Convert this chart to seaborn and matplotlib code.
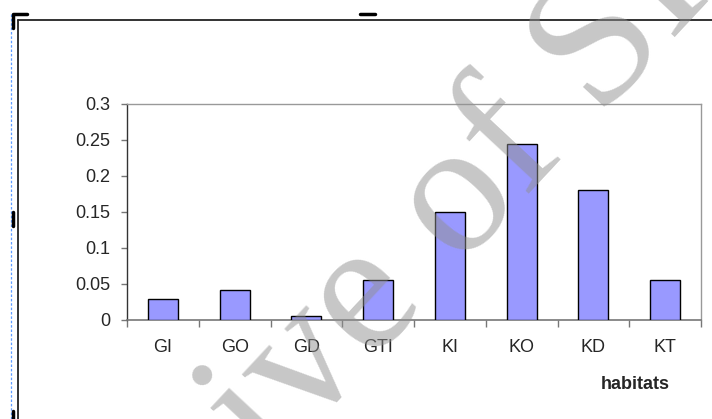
import matplotlib
matplotlib.use("Agg")
import matplotlib.pyplot as plt
from matplotlib.lines import Line2D
import seaborn as sns
import numpy as np

# data
habitats = ["GI", "GO", "GD", "GTI", "KI", "KO", "KD", "KT"]
values = [0.029, 0.041, 0.006, 0.056, 0.150, 0.245, 0.180, 0.056]
yticks = [0, 0.05, 0.1, 0.15, 0.2, 0.25, 0.3]
ytick_labels = ["0", "0.05", "0.1", "0.15", "0.2", "0.25", "0.3"]

sns.set_style("white")
plt.rcParams['font.family'] = ['Liberation Sans', 'DejaVu Sans']

W, H = 712, 419
fig = plt.figure(figsize=(W / 100, H / 100), dpi=100)
ax = fig.add_axes([127 / W, 1 - 320 / H, (701 - 127) / W, (320 - 104) / H])

sns.barplot(x=habitats, y=values, color="#9999ff", saturation=1,
            edgecolor="black", linewidth=1, width=0.42, ax=ax, zorder=3)

ax.set_xlim(-0.5, len(habitats) - 0.5)
ax.set_ylim(0, 0.3)
ax.set_yticks(yticks)
ax.set_yticklabels(ytick_labels, fontsize=13)
ax.tick_params(axis="y", length=4.5, width=1, color="#777777", pad=7.5, direction="out", left=True)

# category boundaries as major ticks, labels on minor ticks
ax.set_xticks(np.arange(-0.5, len(habitats)), labels=[""] * (len(habitats) + 1))
ax.set_xticks(np.arange(len(habitats)), labels=habitats, minor=True)
ax.tick_params(axis="x", which="major", length=5, width=1, color="#777777", direction="out", bottom=True)
ax.tick_params(axis="x", which="minor", length=0, pad=14, labelsize=13)
ax.set_xlabel("")
ax.set_ylabel("")

for side in ["top", "right"]:
    ax.spines[side].set_visible(True)
    ax.spines[side].set_color("#999999")
    ax.spines[side].set_linewidth(1)
ax.spines["left"].set_color("#333333")
ax.spines["bottom"].set_color("#777777")
ax.spines["left"].set_linewidth(1)
ax.spines["bottom"].set_linewidth(1.2)

fig.text(635 / W, 1 - 384 / H, "habitats", ha="center", va="center",
         fontsize=13, fontweight="bold")

# document frame and editing marks
fig.add_artist(Line2D([18 / W, 18 / W], [0, 1 - 20 / H], color="#222222", lw=1.3))
fig.add_artist(Line2D([18 / W, 1], [1 - 20 / H, 1 - 20 / H], color="#222222", lw=1.3))
fig.add_artist(Line2D([10.5 / W, 10.5 / W], [0, 1 - 13 / H], color="#5f9cff", lw=0.9, ls=(0, (2, 1.5))))
fig.add_artist(Line2D([13 / W, 13 / W, 27 / W], [1 - 28 / H, 1 - 14.5 / H, 1 - 14.5 / H], color="black", lw=2.5))
fig.add_artist(Line2D([360 / W, 375 / W], [1 - 14 / H, 1 - 14 / H], color="black", lw=2.5))
fig.add_artist(Line2D([13 / W, 13 / W], [1 - 212 / H, 1 - 226 / H], color="black", lw=2.5))
fig.add_artist(Line2D([13 / W, 13 / W], [0, 1 - 411 / H], color="black", lw=2.5))

# watermark
fig.text(410 / W, 1 - 322 / H, "Archive of SID", rotation=47, rotation_mode="anchor",
         ha="center", va="baseline", fontsize=136, color="#909090", alpha=0.5,
         family="Liberation Serif", zorder=10)

fig.savefig("out.png", dpi=100)
